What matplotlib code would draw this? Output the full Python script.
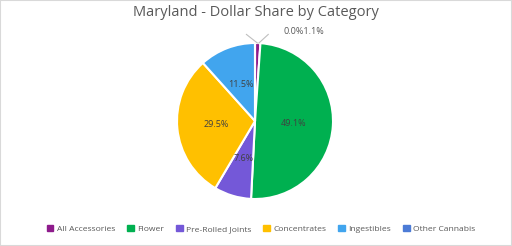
import matplotlib
matplotlib.use("Agg")
import matplotlib.pyplot as plt
import numpy as np
from matplotlib.patches import Rectangle

plt.rcParams['font.family'] = ['Open Sans', 'DejaVu Sans']

categories = ['All Accessories', 'Flower', 'Pre-Rolled Joints', 'Concentrates', 'Ingestibles', 'Other Cannabis']
shares = [1.1, 49.1, 7.6, 29.5, 11.5, 0.0]
colors = ['#8E1B8C', '#00B050', '#7458D8', '#FFC000', '#41A5EE', '#4C7BD6']

fig = plt.figure(figsize=(5.12, 2.46), dpi=100)
fig.patches.append(Rectangle((0, 0), 1, 1, transform=fig.transFigure, fill=False,
                             edgecolor='#D9D9D9', linewidth=1.5))

ax = fig.add_axes([0.0, 0.0, 1.0, 1.0])
# pie box: center (255,121) px, radius ~78 px
cx, cy, r = 255 / 512, 1 - 121 / 246, 78
ax.set_position([cx - r / 512, cy - r / 246, 2 * r / 512, 2 * r / 246])

wedges, texts = ax.pie(shares, colors=colors, startangle=90, counterclock=False,
                       wedgeprops=dict(edgecolor='white', linewidth=1.5))

for w, v in zip(wedges, shares):
    if v < 2:
        continue
    ang = np.deg2rad((w.theta1 + w.theta2) / 2)
    ax.text(0.5 * np.cos(ang), 0.5 * np.sin(ang), f'{v:.1f}%', ha='center', va='center',
            fontsize=6.5, color='#404040')

# small slices labelled outside with leader lines
ax.plot([0.03, -0.11], [1.0, 1.11], color='#BFBFBF', lw=0.8, clip_on=False)
ax.plot([0.05, 0.17], [1.0, 1.11], color='#BFBFBF', lw=0.8, clip_on=False)
ax.text(0.36, 1.15, f'{shares[5]:.1f}%{shares[0]:.1f}%', ha='left', va='center',
        fontsize=6.5, color='#595959', clip_on=False)
ax.set_xlim(-1, 1)
ax.set_ylim(-1, 1)

fig.text(0.5, 1 - 12 / 246, 'Maryland - Dollar Share by Category', ha='center', va='center',
         fontsize=10.5, color='#595959')

handles = [Rectangle((0, 0), 1, 1, color=c) for c in colors]
fig.legend(handles, categories, loc='center', bbox_to_anchor=(0.51, 1 - 229 / 246), ncol=6,
           frameon=False, fontsize=6.1, handlelength=0.8, handleheight=0.8, handletextpad=0.4,
           columnspacing=1.4, labelcolor='#595959')

fig.savefig('out.png', dpi=100)
